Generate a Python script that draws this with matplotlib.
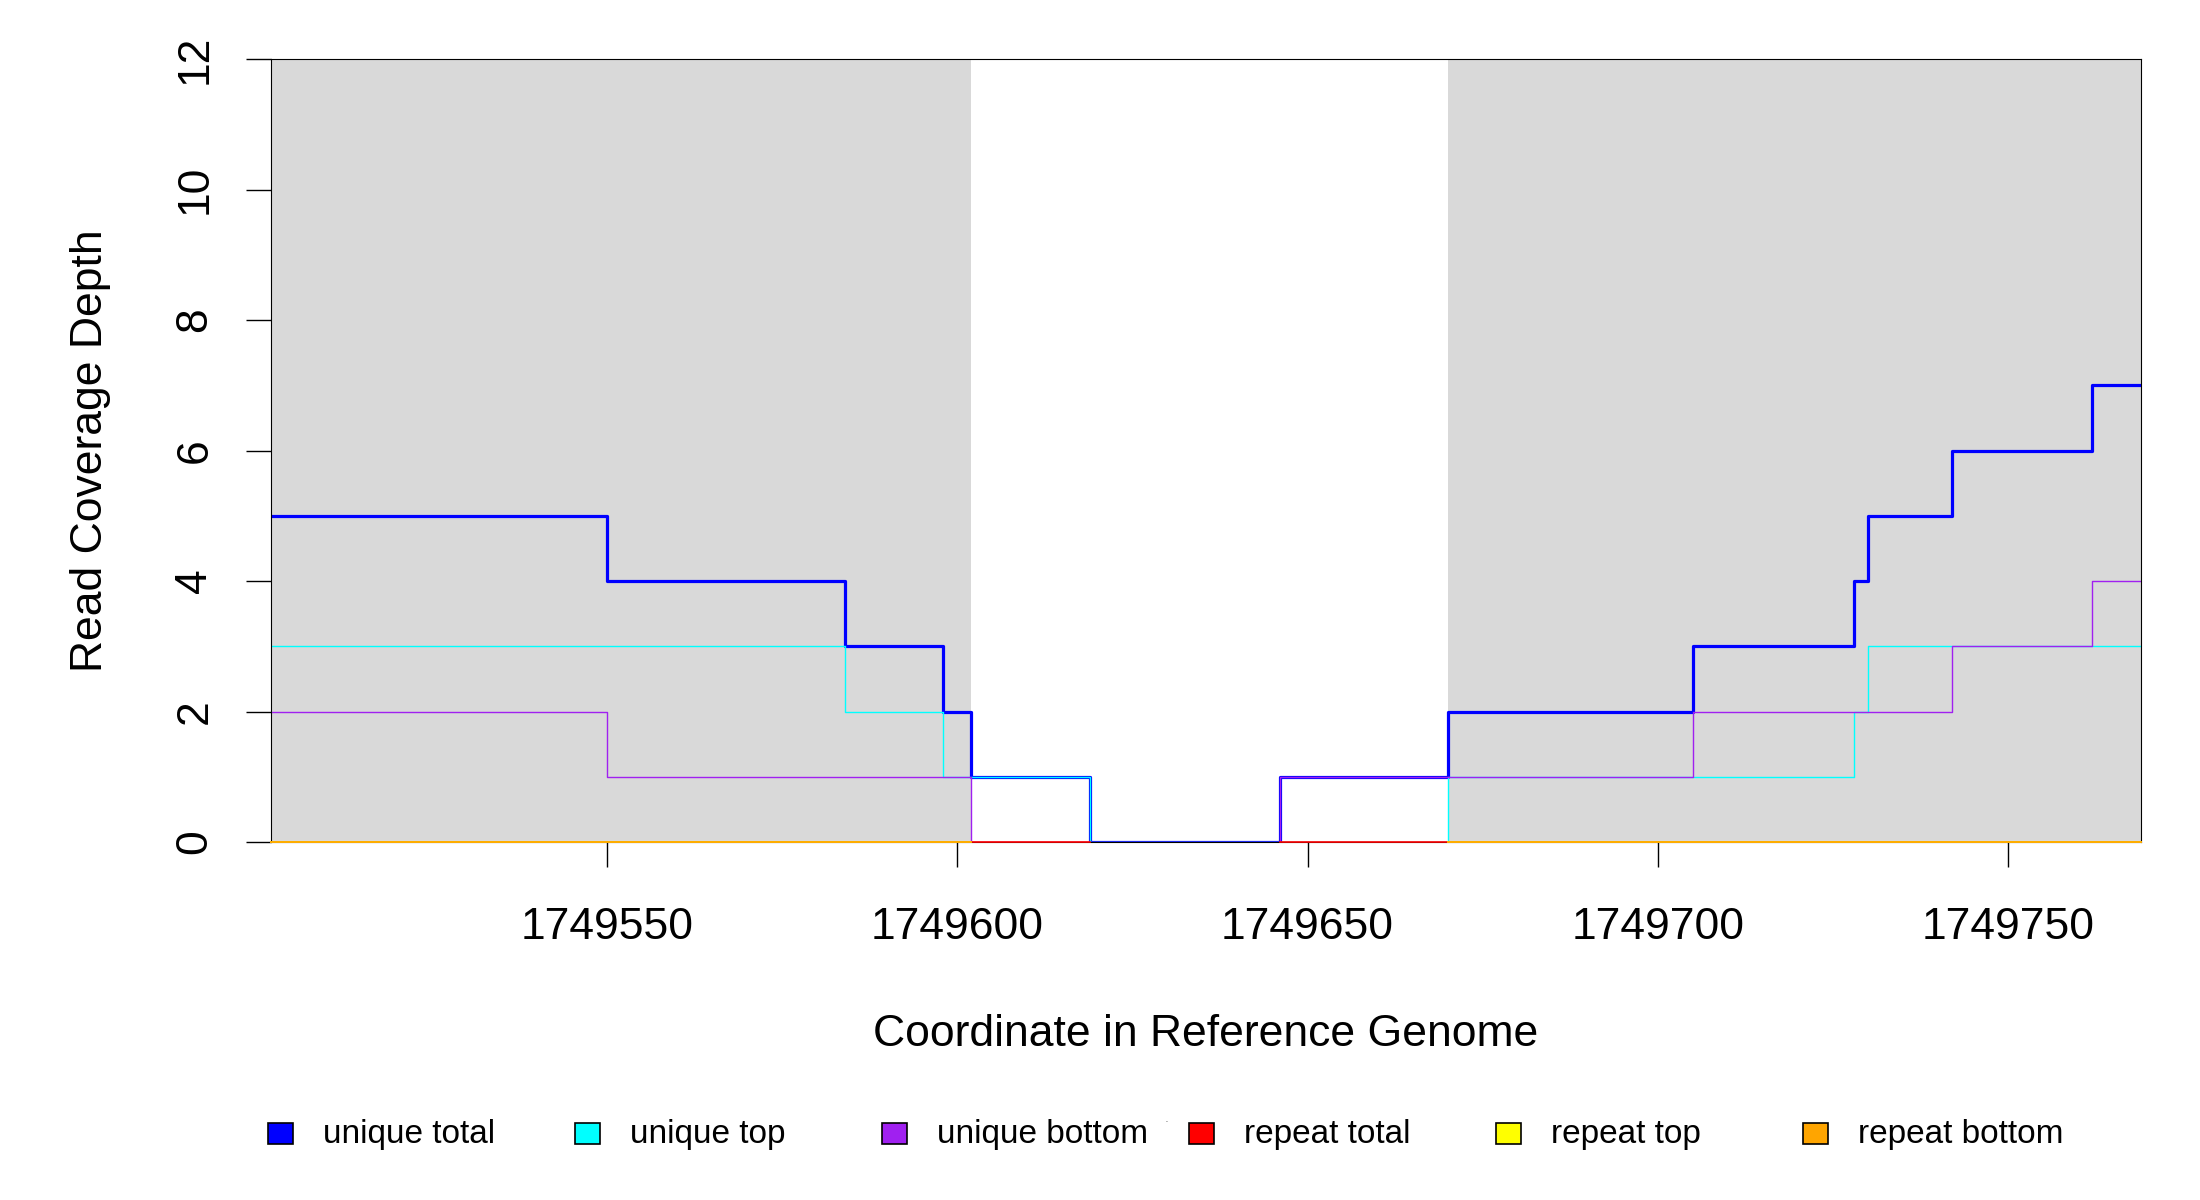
import numpy as np
import matplotlib
matplotlib.use("Agg")
import matplotlib.pyplot as plt
from matplotlib.patches import Rectangle

plt.rcParams["font.family"] = ["Liberation Sans", "DejaVu Sans"]

# ── Data (coverage steps: n+1 edges, n values) ──────────────────────────────
X_START, X_END = 1749502, 1749769
FLANK_LEFT = (1749502, 1749602)
FLANK_RIGHT = (1749670, 1749769)

unique_total_edges = [1749502, 1749550, 1749584, 1749598, 1749602, 1749619, 1749646,
                      1749670, 1749705, 1749728, 1749730, 1749742, 1749762, 1749769]
unique_total_vals = [5, 4, 3, 2, 1, 0, 1, 2, 3, 4, 5, 6, 7]

unique_top_edges = [1749502, 1749584, 1749598, 1749619, 1749670, 1749728, 1749730, 1749769]
unique_top_vals = [3, 2, 1, 0, 1, 2, 3]

unique_bottom_edges = [1749502, 1749550, 1749602, 1749646, 1749705, 1749742, 1749762, 1749769]
unique_bottom_vals = [2, 1, 0, 1, 2, 3, 4]

repeat_total_edges = [1749502, 1749619, 1749646, 1749769]
repeat_total_vals = [0, np.nan, 0]

repeat_top_edges = [1749502, 1749602, 1749670, 1749769]
repeat_top_vals = [0, np.nan, 0]

repeat_bottom_edges = [1749502, 1749602, 1749670, 1749769]
repeat_bottom_vals = [0, np.nan, 0]

series_labels = ["unique total", "unique top", "unique bottom",
                 "repeat total", "repeat top", "repeat bottom"]
series_colors = ["#0000FF", "#00FFFF", "#A020F0", "#FF0000", "#FFFF00", "#FFA500"]

x_ticks = [1749550, 1749600, 1749650, 1749700, 1749750]
y_ticks = [0, 2, 4, 6, 8, 10, 12]

# ── Figure ──────────────────────────────────────────────────────────────────
W, H = 2200, 1200
fig = plt.figure(figsize=(22, 12), dpi=100, facecolor="white")
ax = fig.add_axes([271 / W, 1 - 842 / H, (2141 - 271) / W, (842 - 59) / H])

# flanking regions in grey
ax.axvspan(*FLANK_LEFT, color="#D9D9D9", lw=0, zorder=0)
ax.axvspan(*FLANK_RIGHT, color="#D9D9D9", lw=0, zorder=0)

# (edges, values, line width, zorder); repeat lines sit on the x-axis,
# so they are drawn unclipped above the frame to stay visible
series = [
    (unique_total_edges, unique_total_vals, 2.3, 2),
    (unique_top_edges, unique_top_vals, 1.0, 2),
    (unique_bottom_edges, unique_bottom_vals, 1.0, 2),
    (repeat_total_edges, repeat_total_vals, 1.2, 3),
    (repeat_top_edges, repeat_top_vals, 1.2, 3),
    (repeat_bottom_edges, repeat_bottom_vals, 1.2, 3),
]
for (edges, vals, lw, z), color in zip(series, series_colors):
    yy = list(vals) + [vals[-1]]
    ax.step(edges, yy, where="post", color=color, lw=lw, zorder=z,
            clip_on=(z < 3))

ax.set_xlim(X_START, X_END)
ax.set_ylim(0, 12)
ax.set_xticks(x_ticks)
ax.set_xticklabels([str(t) for t in x_ticks])
ax.set_yticks(y_ticks)
ax.set_yticklabels([str(t) for t in y_ticks], rotation=90, va="center")

for sp in ax.spines.values():
    sp.set_linewidth(0.8)
    sp.set_color("black")

ax.tick_params(axis="both", direction="out", length=18, width=1.0,
               labelsize=32, color="black")
ax.tick_params(axis="x", pad=29)
ax.tick_params(axis="y", pad=22)

ax.set_xlabel("Coordinate in Reference Genome", fontsize=32)
ax.xaxis.set_label_coords(0.5, -(1034 - 842) / (842 - 59), transform=ax.transAxes)
ax.xaxis.label.set_va("center")
ax.set_ylabel("Read Coverage Depth", fontsize=32)
ax.yaxis.set_label_coords(-(271 - 91) / (2141 - 271), 0.5, transform=ax.transAxes)
ax.yaxis.label.set_va("center")

# ── Legend, laid out in a single row like the R original ────────────────────
box_w, box_h = 25, 21
legend_y = 1133
for i, (label, color) in enumerate(zip(series_labels, series_colors)):
    cx = 280 + i * 307
    fig.add_artist(Rectangle(((cx - box_w / 2) / W, 1 - (legend_y + box_h / 2) / H),
                             box_w / W, box_h / H, transform=fig.transFigure,
                             facecolor=color, edgecolor="black", lw=1.2))
    fig.text((cx + 43) / W, 1 - 1143 / H, label, fontsize=24,
             ha="left", va="baseline")

# stray mark next to "unique bottom"
fig.text(1166 / W, 1 - 1120 / H, ".", fontsize=5, ha="center", va="center")

fig.savefig("out.png", dpi=100, facecolor="white")
